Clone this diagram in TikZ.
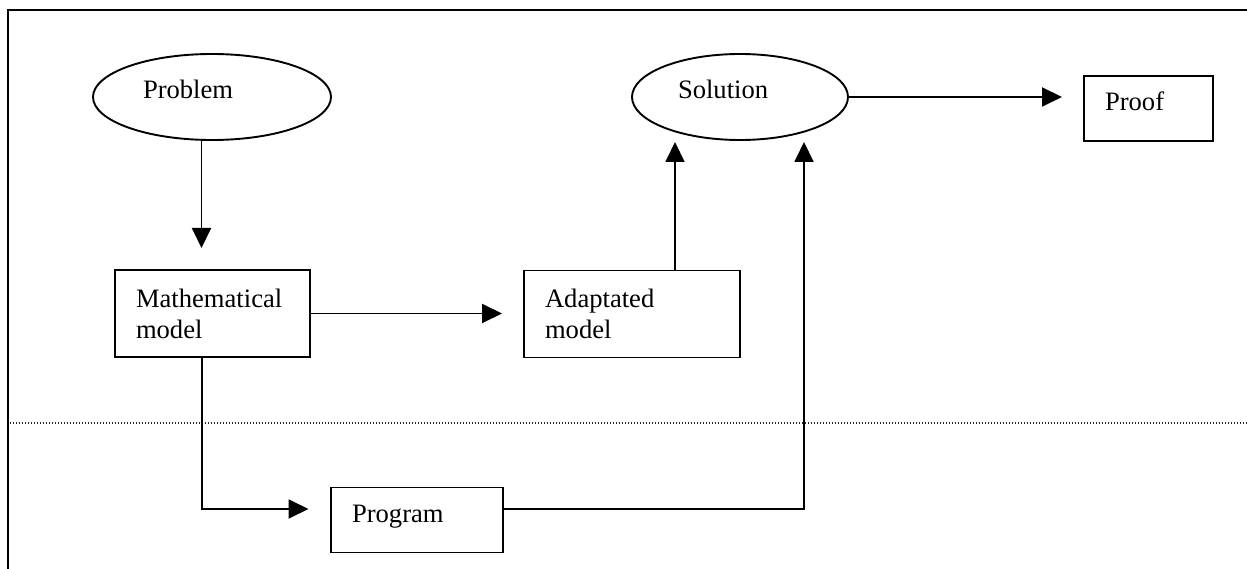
\documentclass[tikz,border=0pt]{standalone}
\usepackage{fontspec}
\setmainfont{Liberation Serif}
\usetikzlibrary{arrows.meta,shapes.geometric}
\begin{document}
\begin{tikzpicture}[x=1pt,y=-1pt,
  every node/.style={font=\fontsize{26.6pt}{31pt}\selectfont},
  ln/.style={line width=1.9pt},
  arr/.style={ln,-{Triangle[length=20pt,width=19pt]}},
  oval/.style={draw,ln,ellipse,inner sep=0pt,align=left,text height=16pt,text depth=12pt},
  boxtwo/.style={draw,ln,rectangle,inner xsep=21pt,inner ysep=0pt,align=left,minimum height=87pt},
  boxone/.style={draw,ln,rectangle,inner xsep=21pt,inner ysep=0pt,align=left,minimum height=65pt,text height=18pt,text depth=13pt}]
\useasboundingbox (0,0) rectangle (1247,569);
\fill[white] (0,0) rectangle (1247,569);
% frame (cropped)
\draw[line width=2.2pt] (8,575) -- (8,10) -- (1255,10);
% dotted separator
\draw[line width=1.3pt, dash pattern=on 1.3pt off 1.7pt, black!85] (10,423) -- (1247,423);
% nodes
\node[oval,minimum width=238pt,minimum height=86pt,text width=138pt] (prob) at (212,97) {Problem};
\node[oval,minimum width=216pt,minimum height=86pt,text width=124pt] (sol) at (740,97) {Solution};
\node[boxtwo,text width=153pt] (math) at (212.5,313.5) {Mathematical\\model};
\node[boxtwo,text width=174pt] (adapt) at (632,314) {Adaptated\\model};
\node[boxone,text width=130pt] (prog) at (417,520) {Program};
\node[boxone,text width=87pt] (proof) at (1148.5,108.5) {Proof};
% free ends
\coordinate (t1) at (201.5,248);
\coordinate (t2) at (502,313.5);
\coordinate (t3) at (675,142);
\coordinate (t4) at (804,142);
\coordinate (t5) at (1062,97);
\coordinate (t6) at (308.5,509);
% connectors
\draw[arr] ([xshift=-10.5pt]prob.south) -- (t1);
\draw[arr] (math.east) -- (t2);
\draw[arr] (adapt.north -| t3) -- (t3);
\draw[arr] ([xshift=-10.5pt]math.south) |- (t6);
\draw[arr] (prog.east |- t6) -| (t4);
\draw[arr] (sol.east) -- (t5);
\end{tikzpicture}
\end{document}
